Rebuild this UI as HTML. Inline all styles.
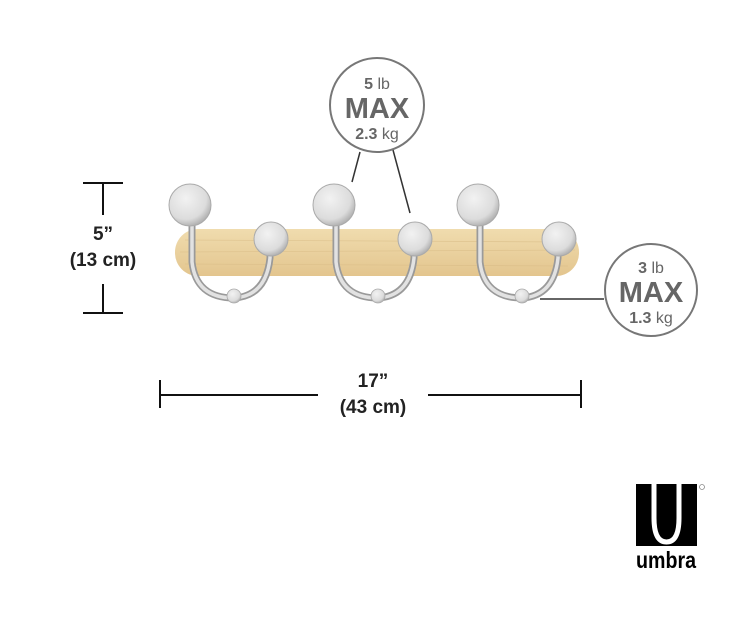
<!DOCTYPE html>
<html><head><style>
body{margin:0;background:#fff;}
svg{display:block}
text{font-family:"Liberation Sans",sans-serif;}
</style></head><body>
<svg width="750" height="640" viewBox="0 0 750 640" xmlns="http://www.w3.org/2000/svg">
<defs>
<linearGradient id="wood" x1="0" y1="0" x2="0" y2="1">
<stop offset="0" stop-color="#f0dcae"/><stop offset="1" stop-color="#e3c58e"/>
</linearGradient>
<radialGradient id="disc" cx="0.4" cy="0.35" r="0.7">
<stop offset="0" stop-color="#f2f2f2"/><stop offset="0.7" stop-color="#dcdcdc"/><stop offset="1" stop-color="#a8a8a8"/>
</radialGradient>
</defs>
<rect x="175" y="229" width="404" height="47" rx="23" fill="url(#wood)"/>
<g stroke="#d8bb85" stroke-width="0.8" opacity="0.6">
<line x1="185" y1="240" x2="570" y2="242"/><line x1="180" y1="252" x2="575" y2="250"/><line x1="185" y1="264" x2="568" y2="266"/>
</g>
<g id="h1">
<path d="M192,222 L192,262 Q196,298 234,298 Q266,296 270,258 L270,250" fill="none" stroke="#9a9a9a" stroke-width="7"/>
<path d="M192,222 L192,262 Q196,298 234,298 Q266,296 270,258 L270,250" fill="none" stroke="#e2e2e2" stroke-width="3.5"/>
<circle cx="234" cy="296" r="7" fill="url(#disc)" stroke="#aaa" stroke-width="0.8"/>
<circle cx="190" cy="205" r="21" fill="url(#disc)" stroke="#aaa" stroke-width="1"/>
<circle cx="271" cy="239" r="17" fill="url(#disc)" stroke="#aaa" stroke-width="1"/>
</g>
<use href="#h1" x="144"/>
<use href="#h1" x="288"/>
<line x1="360" y1="152" x2="352" y2="182" stroke="#333" stroke-width="1.5"/>
<line x1="393" y1="150" x2="410" y2="213" stroke="#333" stroke-width="1.5"/>
<circle cx="377" cy="105" r="47" fill="#fff" stroke="#777" stroke-width="2"/>
<text x="377" y="89" text-anchor="middle" font-size="16" fill="#666"><tspan font-weight="bold">5</tspan> lb</text>
<text x="377" y="118" text-anchor="middle" font-size="29" font-weight="bold" fill="#666">MAX</text>
<text x="377" y="139" text-anchor="middle" font-size="16" fill="#666"><tspan font-weight="bold">2.3</tspan> kg</text>
<line x1="540" y1="299" x2="604" y2="299" stroke="#333" stroke-width="1.5"/>
<circle cx="651" cy="290" r="46" fill="#fff" stroke="#777" stroke-width="2"/>
<text x="651" y="273" text-anchor="middle" font-size="16" fill="#666"><tspan font-weight="bold">3</tspan> lb</text>
<text x="651" y="302" text-anchor="middle" font-size="29" font-weight="bold" fill="#666">MAX</text>
<text x="651" y="323" text-anchor="middle" font-size="16" fill="#666"><tspan font-weight="bold">1.3</tspan> kg</text>
<g stroke="#111" stroke-width="2">
<line x1="83" y1="183" x2="123" y2="183"/><line x1="103" y1="183" x2="103" y2="215"/>
<line x1="103" y1="284" x2="103" y2="313"/><line x1="83" y1="313" x2="123" y2="313"/>
</g>
<text x="103" y="240" text-anchor="middle" font-size="19" font-weight="bold" fill="#222">5”</text>
<text x="103" y="266" text-anchor="middle" font-size="19" font-weight="bold" fill="#222">(13 cm)</text>
<g stroke="#111" stroke-width="2">
<line x1="160" y1="380" x2="160" y2="408"/><line x1="160" y1="395" x2="318" y2="395"/>
<line x1="428" y1="395" x2="581" y2="395"/><line x1="581" y1="380" x2="581" y2="408"/>
</g>
<text x="373" y="387" text-anchor="middle" font-size="19" font-weight="bold" fill="#222">17”</text>
<text x="373" y="413" text-anchor="middle" font-size="19" font-weight="bold" fill="#222">(43 cm)</text>
<rect x="636" y="484" width="61" height="62" fill="#000"/>
<path d="M654,484 L654,518 Q654,542 666.5,542 Q679,542 679,518 L679,484" fill="none" stroke="#fff" stroke-width="5"/>
<circle cx="702" cy="487" r="2.5" fill="none" stroke="#888" stroke-width="0.8"/>
<text x="666" y="568" text-anchor="middle" font-size="23" font-weight="bold" fill="#000" textLength="60" lengthAdjust="spacingAndGlyphs">umbra</text>
</svg>
</body></html>
